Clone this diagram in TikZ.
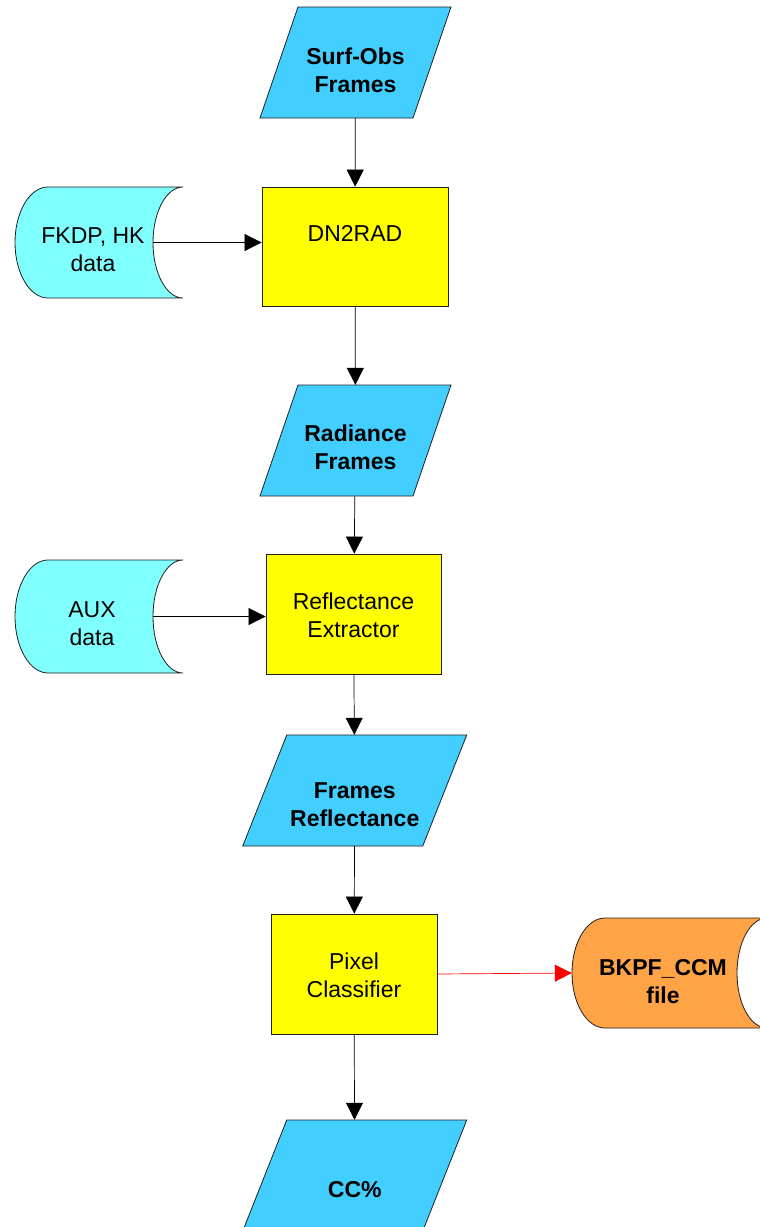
\documentclass[tikz,border=0pt]{standalone}
\usepackage{fontspec}
\setmainfont{Liberation Sans}
\usetikzlibrary{arrows.meta}
\definecolor{iocyan}{HTML}{42CFFF}
\definecolor{procyellow}{HTML}{FFFF00}
\definecolor{storecyan}{HTML}{80FFFF}
\definecolor{storeorange}{HTML}{FFA347}
\definecolor{edgegray}{HTML}{202020}

\tikzset{
  iopath/.style={fill=iocyan, draw=edgegray, line width=0.8pt},
  storepath/.style={draw=edgegray, line width=0.8pt},
  shapebox/.style={inner sep=0pt, rectangle},
  nodetext/.style={inner sep=0pt, align=center, font=\fontsize{23}{28}\selectfont},
  procbox/.style={shapebox, fill=procyellow, draw=edgegray, line width=0.8pt},
  flow/.style={draw=black, line width=0.7pt, -{Triangle[length=17pt,width=17pt]}},
  redflow/.style={draw=red, line width=0.7pt, -{Triangle[length=17pt,width=17pt]}, red},
}

% input/output parallelogram: name, centre x, centre y, edge width, skew, text offset, text
\newcommand\ionode[7]{%
  \filldraw[iopath] (#2-#4/2+#5/2,#3-55.5) -- (#2+#4/2+#5/2,#3-55.5)
    -- (#2+#4/2-#5/2,#3+55.5) -- (#2-#4/2-#5/2,#3+55.5) -- cycle;
  \node[shapebox, minimum width=#4, minimum height=111] (#1) at (#2,#3) {};
  \node[nodetext, font=\fontsize{23}{28}\selectfont\bfseries] (#1-text) at (#2,#3+#6) {#7};}

% process box: name, centre x, centre y, width, height, text offset, text
\newcommand\procnode[7]{%
  \node[procbox, minimum width=#4, minimum height=#5] (#1) at (#2,#3) {};
  \node[nodetext] (#1-text) at (#2,#3+#6) {#7};}

% stored-data shape: name, left x, right x, top y, bottom y, fill, text centre x, text offset, text
\newcommand\storenode[9]{%
  \filldraw[storepath, fill=#6] (#2+33,#4)
    arc[start angle=90, end angle=270, x radius=33pt, y radius={(#5-#4)*0.5pt}]
    -- (#3,#5)
    arc[start angle=270, end angle=90, x radius=30pt, y radius={(#5-#4)*0.5pt}]
    -- cycle;
  \node[shapebox, minimum width={#3-30-#2}, minimum height={#5-#4}]
    (#1) at ({(#2+#3-30)/2},{(#4+#5)/2}) {};
  \node[nodetext] (#1-text) at (#7,{(#4+#5)/2+#8}) {#9};}

\begin{document}
\begin{tikzpicture}[x=1pt, y=-1pt]
\useasboundingbox (0,0) rectangle (760,1227);
\clip (0,0) rectangle (760,1227);

% main chain
\ionode{surfobs}{355.5}{62.5}{153}{38}{7.5}{Surf-Obs\\Frames}
\procnode{dn2rad}{355}{246.5}{186}{119}{-13}{DN2RAD}
\ionode{radiance}{355.5}{440.5}{153}{38}{6.5}{Radiance\\Frames}
\procnode{refext}{353.5}{614}{175}{120}{1}{Reflectance\\Extractor}
\ionode{framesrefl}{354.75}{790.5}{180}{44}{14}{Frames\\Reflectance}
\procnode{pixcls}{354}{974}{166}{120}{1.5}{Pixel\\Classifier}
\ionode{ccpct}{354.75}{1175.5}{180}{44}{14}{CC\%}

% side data stores
\storenode{fkdp}{15}{183}{187}{298}{storecyan}{93}{7.5}{FKDP, HK\\data}
\storenode{auxdata}{15}{183}{560}{673}{storecyan}{92}{7.5}{AUX\\data}
\storenode{bkpf}{572}{767}{918}{1028}{storeorange}{663}{9}{\bfseries BKPF\_CCM\\\bfseries file}

% connectors
\draw[flow] (surfobs) -- (dn2rad);
\draw[flow] (dn2rad) -- (radiance);
\draw[flow] (radiance) -- (refext);
\draw[flow] (refext) -- (framesrefl);
\draw[flow] (framesrefl) -- (pixcls);
\draw[flow] (pixcls) -- (ccpct);
\draw[flow] (fkdp.east) -- (dn2rad.west |- fkdp.east);
\draw[flow] (auxdata.east) -- (refext.west |- auxdata.east);
\draw[redflow] (pixcls.east) -- (bkpf.west);
\end{tikzpicture}
\end{document}
